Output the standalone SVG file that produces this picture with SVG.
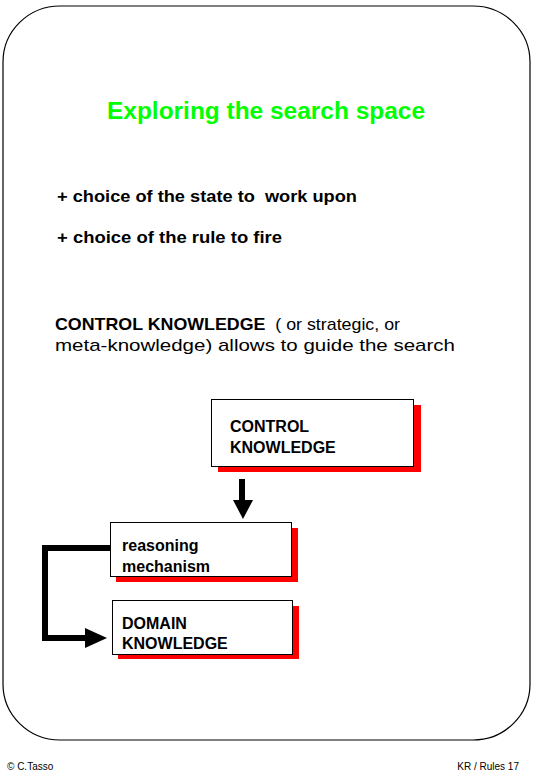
<svg xmlns="http://www.w3.org/2000/svg" width="536" height="779" viewBox="0 0 536 779">
<defs>
<style>
.t{font-family:"Liberation Sans",Arial,sans-serif;fill:#000}
.b{font-weight:bold}
.box{fill:#fff;stroke:#000;stroke-width:1}
.sh{fill:#ff0000}
.conn{fill:none;stroke:#000;stroke-width:6}
</style>
</defs>
<rect width="536" height="779" fill="#fff"/>
<rect x="3" y="6" width="527" height="734" rx="57" ry="56" fill="none" stroke="#000" stroke-width="1.2"/>
<text class="t b" x="107" y="119" font-size="23" style="fill:#00ff00" textLength="318" lengthAdjust="spacingAndGlyphs">Exploring the search space</text>
<text class="t b" x="57" y="202" font-size="16" textLength="300" lengthAdjust="spacingAndGlyphs" xml:space="preserve">+ choice of the state to  work upon</text>
<text class="t b" x="57" y="243" font-size="16" textLength="225" lengthAdjust="spacingAndGlyphs">+ choice of the rule to fire</text>
<text class="t" x="55" y="330" font-size="17" textLength="345" lengthAdjust="spacingAndGlyphs" xml:space="preserve"><tspan font-weight="bold">CONTROL KNOWLEDGE</tspan>  ( or strategic, or</text>
<text class="t" x="55" y="351" font-size="17" textLength="400" lengthAdjust="spacingAndGlyphs">meta-knowledge) allows to guide the search</text>
<g id="control">
<rect class="sh" x="218" y="405" width="203" height="67"/>
<rect class="box" x="211.5" y="399.5" width="202" height="67"/>
<text class="t b" x="230" y="432" font-size="16">CONTROL</text>
<text class="t b" x="230" y="453" font-size="16">KNOWLEDGE</text>
</g>
<g id="reasoning">
<rect class="sh" x="116" y="528" width="182" height="54"/>
<rect class="box" x="110.5" y="522.5" width="181" height="54"/>
<text class="t b" x="122" y="551" font-size="16">reasoning</text>
<text class="t b" x="122" y="572" font-size="16">mechanism</text>
</g>
<g id="domain">
<rect class="sh" x="118" y="606" width="181" height="53"/>
<rect class="box" x="112.5" y="600.5" width="180" height="54"/>
<text class="t b" x="122" y="629" font-size="16">DOMAIN</text>
<text class="t b" x="122" y="649" font-size="16">KNOWLEDGE</text>
</g>
<g id="connectors">
<line class="conn" x1="242" y1="479" x2="242" y2="501"/>
<polygon points="233,500 253,500 243,519" fill="#000"/>
<polyline class="conn" points="110,548 45,548 45,638 86,638"/>
<polygon points="85,628 107,638 85,648" fill="#000"/>
</g>
<text class="t" x="7" y="770" font-size="10">© C.Tasso</text>
<text class="t" x="519" y="770" font-size="10" text-anchor="end">KR / Rules 17</text>
</svg>
